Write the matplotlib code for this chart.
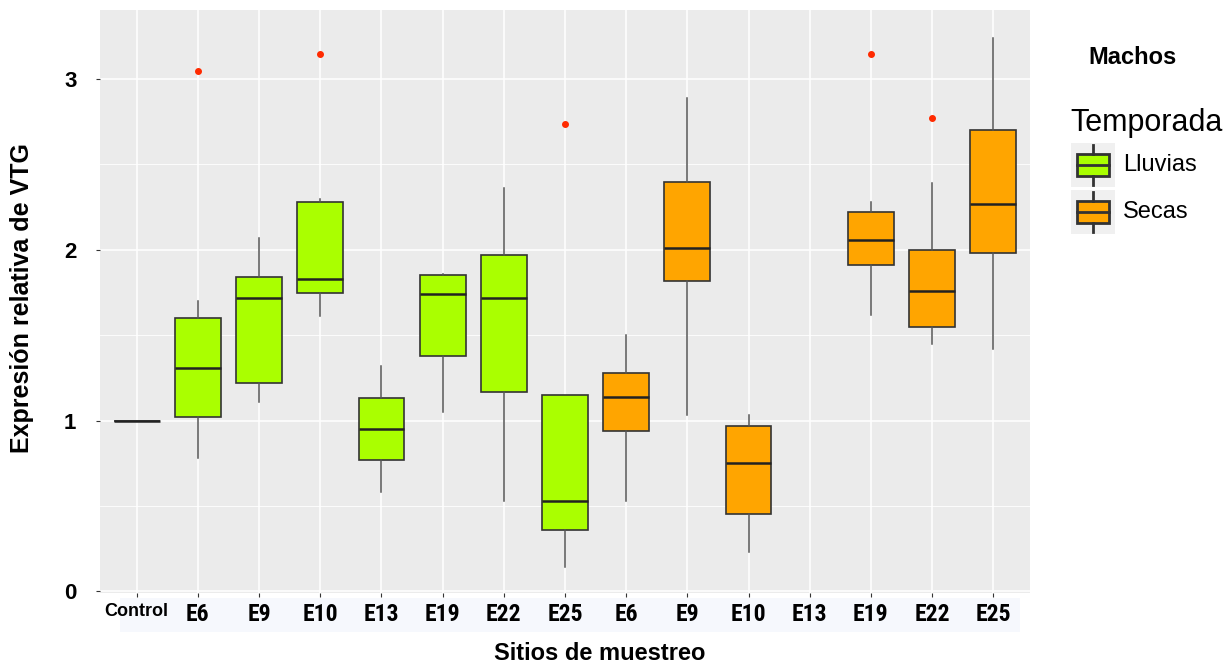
import matplotlib
matplotlib.use("Agg")
import matplotlib.pyplot as plt
from matplotlib.patches import Rectangle
from matplotlib import font_manager

plt.rcParams['font.family'] = ['Liberation Sans', 'DejaVu Sans']

categories = ["Control", "E6", "E9", "E10", "E13", "E19", "E22", "E25",
              "E6", "E9", "E10", "E13", "E19", "E22", "E25"]
season = ["Control", "Lluvias", "Lluvias", "Lluvias", "Lluvias", "Lluvias", "Lluvias", "Lluvias",
          "Secas", "Secas", "Secas", "Secas", "Secas", "Secas", "Secas"]
# whisker low, Q1, median, Q3, whisker high (None = no data)
whislo = [1.00, 0.78, 1.11, 1.61, 0.58, 1.05, 0.53, 0.14, 0.53, 1.03, 0.23, None, 1.62, 1.45, 1.42]
q1     = [1.00, 1.02, 1.22, 1.75, 0.77, 1.38, 1.17, 0.36, 0.94, 1.82, 0.45, None, 1.91, 1.55, 1.98]
med    = [1.00, 1.31, 1.72, 1.83, 0.95, 1.74, 1.72, 0.53, 1.14, 2.01, 0.75, None, 2.06, 1.76, 2.27]
q3     = [1.00, 1.60, 1.84, 2.28, 1.13, 1.85, 1.97, 1.15, 1.28, 2.40, 0.97, None, 2.22, 2.00, 2.70]
whishi = [1.00, 1.70, 2.07, 2.30, 1.32, 1.86, 2.36, 1.15, 1.50, 2.89, 1.03, None, 2.28, 2.39, 3.24]
outliers = [[], [3.05], [], [3.15], [], [], [], [2.74], [], [], [], [], [3.15], [2.77], []]

colors = {"Control": "#AAFF00", "Lluvias": "#AAFF00", "Secas": "#FFA500"}

names = {f.name for f in font_manager.fontManager.ttflist}
narrow = None
for cand in ["Liberation Sans Narrow", "DejaVu Sans Condensed", "Roboto Condensed"]:
    if cand in names:
        narrow = cand
        break

fig = plt.figure(figsize=(12.27, 6.63), dpi=100)
W, H = 1227, 663
ax = fig.add_axes([100 / W, (H - 593) / H, 930 / W, 583 / H])
ax.set_facecolor("#EBEBEB")
for s in ax.spines.values():
    s.set_visible(False)

pos = list(range(1, len(categories) + 1))
ax.set_xlim(0.4, 15.6)
ax.set_ylim(-0.01, 3.405)

# grid
for y in [0.5, 1.5, 2.5]:
    ax.axhline(y, color="white", lw=0.6, zorder=0)
for y in [0, 1, 2, 3]:
    ax.axhline(y, color="white", lw=1.1, zorder=0)
for x in pos:
    ax.axvline(x, color="white", lw=1.1, zorder=0)

stats, ppos, fcs = [], [], []
for i in range(len(categories)):
    if med[i] is None:
        continue
    stats.append(dict(whislo=whislo[i], q1=q1[i], med=med[i], q3=q3[i],
                      whishi=whishi[i], fliers=outliers[i], label=categories[i]))
    ppos.append(pos[i])
    fcs.append(colors[season[i]])

bp = ax.bxp(stats, positions=ppos, widths=0.75, patch_artist=True, showcaps=False,
            boxprops=dict(edgecolor="#333333", linewidth=1.2),
            whiskerprops=dict(color="#555555", linewidth=1.1),
            medianprops=dict(color="#222222", linewidth=1.8),
            flierprops=dict(marker="o", markerfacecolor="#FF2A00", markeredgecolor="#FF2A00",
                            markersize=4),
            manage_ticks=False, zorder=3)
for patch, fc in zip(bp["boxes"], fcs):
    patch.set_facecolor(fc)

ax.set_yticks([0, 1, 2, 3])
ax.set_yticklabels(["0", "1", "2", "3"], fontsize=16, fontweight="bold")
ax.set_xticks(pos)
if narrow:
    ax.set_xticklabels(categories, fontsize=17, fontweight="bold", family=[narrow, "Liberation Sans"])
else:
    ax.set_xticklabels(categories, fontsize=15, fontweight="bold")
lab0 = ax.get_xticklabels()[0]
lab0.set_fontsize(13)
lab0.set_family(["Liberation Sans", "DejaVu Sans"])
ax.tick_params(axis="both", length=3, color="#333333", pad=4)
ax.tick_params(axis="y", pad=14)

# pale strip behind x tick labels
fig.patches.append(Rectangle((120 / W, (H - 632) / H), 900 / W, 34 / H,
                             transform=fig.transFigure, facecolor="#F6F8FD",
                             edgecolor="none", zorder=-1))

fig.text(600 / W, 1 - 653 / H, "Sitios de muestreo", ha="center", va="center",
         fontsize=17, fontweight="bold")
fig.text(22 / W, 1 - 298 / H, "Expresión relativa de VTG", ha="center", va="center",
         rotation=90, fontsize=18, fontweight="bold")

# legend
fig.text(1132 / W, 1 - 58 / H, "Machos", ha="center", va="center", fontsize=17,
         fontweight="bold")
fig.text(1070 / W, 1 - 123 / H, "Temporada", ha="left", va="center", fontsize=22)
leg_items = [("Lluvias", colors["Lluvias"], 165), ("Secas", colors["Secas"], 212)]
for lab, col, yc in leg_items:
    kax = fig.add_axes([1071 / W, 1 - (yc + 22) / H, 44 / W, 44 / H])
    kax.set_xlim(0, 1); kax.set_ylim(0, 1)
    kax.set_facecolor("#F0F0F0")
    for s in kax.spines.values():
        s.set_visible(False)
    kax.set_xticks([]); kax.set_yticks([])
    kax.plot([0.5, 0.5], [0.04, 0.26], color="#333333", lw=2)
    kax.plot([0.5, 0.5], [0.74, 0.96], color="#333333", lw=2)
    kax.add_patch(Rectangle((0.13, 0.26), 0.74, 0.48, facecolor=col,
                            edgecolor="#333333", lw=2))
    kax.plot([0.13, 0.87], [0.5, 0.5], color="#333333", lw=2)
    fig.text(1123 / W, 1 - yc / H, lab, ha="left", va="center", fontsize=17)

fig.savefig("out.png", dpi=100)
